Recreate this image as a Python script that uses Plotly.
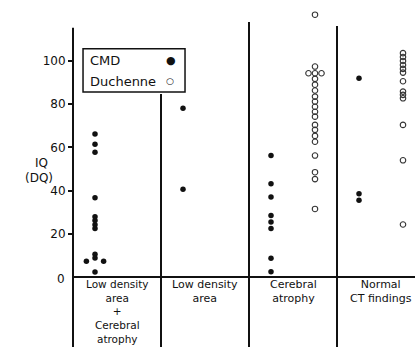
import plotly.graph_objects as go

# ---- data ----
category_lines = [
    ["Low density", "area", "+", "Cerebral", "atrophy"],
    ["Low density", "area"],
    ["Cerebral", "atrophy"],
    ["Normal", "CT findings"],
]
n_categories = len(category_lines)

# CMD (filled dots): category index, IQ value, small horizontal spread for stacked points
cmd_category = [0, 0, 0, 0, 0, 0, 0, 0, 0, 0, 0, 0, 0,
                1, 1,
                2, 2, 2, 2, 2, 2, 2, 2,
                3, 3, 3]
cmd_iq = [66.2, 61.4, 57.7, 36.7, 27.9, 26.1, 24.2, 22.4, 10.5, 8.8, 7.3, 7.3, 2.3,
          78.1, 40.6,
          56.2, 43.2, 37.0, 28.5, 25.5, 22.5, 8.7, 2.4,
          92.0, 38.5, 35.5]
cmd_spread = [0, 0, 0, 0, 0, 0, 0, 0, 0, 0, -0.098, 0.098, 0,
              0, 0,
              0, 0, 0, 0, 0, 0, 0, 0,
              0, 0, 0]

# Duchenne (open circles)
duch_category = [2] * 21 + [3] * 13
duch_iq = [121.4, 97.4, 94.3, 94.3, 94.3, 91.7, 89.0, 86.3, 83.5, 81.2, 78.8, 76.5,
           74.2, 70.4, 68.1, 65.3, 62.6, 56.2, 48.5, 45.3, 31.5,
           103.6, 101.8, 100.0, 98.1, 96.3, 94.6, 90.6, 85.8, 84.3, 82.7, 70.4, 54.0, 24.3]
duch_spread = [0, 0, -0.074, 0, 0.074] + [0] * 16 + [0] * 13

y_ticks = [20, 40, 60, 80, 100]
y_tick_labels = ["20", "40", "60", "80", "100"]
y_zero_label = "0"
y_title_lines = ["IQ", "(DQ)"]
legend_names = ["CMD", "Duchenne"]

# ---- layout constants ----
W, H = 415, 347
ML = 73
px_per_cat = 88.0
x_range = [-0.5, -0.5 + (W - ML) / px_per_cat]
y_range = [-32.4, 128.2]
FONT = "DejaVu Sans"
INK = "#111111"

cmd_offset = -0.25
duch_offset = 0.25

fig = go.Figure()

fig.add_trace(go.Scatter(
    x=[c + cmd_offset + s for c, s in zip(cmd_category, cmd_spread)],
    y=cmd_iq, mode="markers", name=legend_names[0],
    marker=dict(symbol="circle", size=5.5, color=INK, line=dict(width=0)),
    cliponaxis=False, showlegend=False,
))
fig.add_trace(go.Scatter(
    x=[c + duch_offset + s for c, s in zip(duch_category, duch_spread)],
    y=duch_iq, mode="markers", name=legend_names[1],
    marker=dict(symbol="circle-open", size=5.5, color="#333333", line=dict(width=1.1)),
    cliponaxis=False, showlegend=False,
))

shapes = []
# y axis line
shapes.append(dict(type="line", xref="paper", yref="y", x0=0, x1=0,
                   y0=y_range[0], y1=115.3, line=dict(color=INK, width=2)))
# x axis line
shapes.append(dict(type="line", xref="paper", yref="y", x0=0, x1=1,
                   y0=0, y1=0, line=dict(color=INK, width=2)))
# column dividers
divider_tops = [84.7, 118.0, 116.2]
for i, top in enumerate(divider_tops):
    shapes.append(dict(type="line", xref="x", yref="y", x0=i + 0.5, x1=i + 0.5,
                       y0=y_range[0], y1=top, line=dict(color=INK, width=2)))
# legend box
shapes.append(dict(type="rect", xref="x", yref="y", x0=-0.386, x1=0.773,
                   y0=85.6, y1=105.6, line=dict(color=INK, width=1.5),
                   fillcolor="rgba(0,0,0,0)"))

annotations = []
# category labels under the axis (one text block per column)
for i, lines in enumerate(category_lines):
    size = 10.5 if len(lines) > 3 else 11
    annotations.append(dict(x=i, y=0, xref="x", yref="y", text="<br>".join(lines),
                            showarrow=False, yanchor="top", xanchor="center",
                            yshift=0, borderpad=0, align="center",
                            font=dict(family=FONT, size=size, color=INK)))
# zero label (no tick dash in the reference)
annotations.append(dict(x=0, y=0, xref="paper", yref="y", text=y_zero_label,
                        showarrow=False, xanchor="right", yanchor="middle",
                        xshift=-6, yshift=-2,
                        font=dict(family=FONT, size=12, color=INK)))
# y title
annotations.append(dict(x=0, y=52.8, xref="paper", yref="y", text=y_title_lines[0],
                        showarrow=False, xanchor="center", yanchor="middle", xshift=-32,
                        font=dict(family=FONT, size=12, color=INK)))
annotations.append(dict(x=0, y=45.8, xref="paper", yref="y", text=y_title_lines[1],
                        showarrow=False, xanchor="center", yanchor="middle", xshift=-34,
                        font=dict(family=FONT, size=12, color=INK)))
# legend entries
annotations.append(dict(x=-0.443, y=100.0, xref="x", yref="y", text=legend_names[0],
                        showarrow=False, xanchor="left", yanchor="middle", xshift=10,
                        font=dict(family=FONT, size=13, color=INK)))
annotations.append(dict(x=-0.443, y=90.7, xref="x", yref="y", text=legend_names[1],
                        showarrow=False, xanchor="left", yanchor="middle", xshift=10,
                        font=dict(family=FONT, size=13, color=INK)))
annotations.append(dict(x=0.61, y=100.0, xref="x", yref="y", text="●",
                        showarrow=False, xanchor="center", yanchor="middle",
                        font=dict(family=FONT, size=11, color=INK)))
annotations.append(dict(x=0.60, y=90.7, xref="x", yref="y", text="○",
                        showarrow=False, xanchor="center", yanchor="middle",
                        font=dict(family=FONT, size=9, color=INK)))

fig.update_layout(
    width=W, height=H,
    margin=dict(l=ML, r=0, t=0, b=0),
    paper_bgcolor="white", plot_bgcolor="white",
    xaxis=dict(range=x_range, visible=False, fixedrange=True),
    yaxis=dict(range=y_range, tickvals=y_ticks, ticktext=y_tick_labels,
               ticks="outside", ticklen=4, tickwidth=1.5, tickcolor=INK,
               showgrid=False, zeroline=False, showline=False,
               tickfont=dict(family=FONT, size=12, color=INK), fixedrange=True),
    shapes=shapes, annotations=annotations,
    showlegend=False,
)

fig.write_html("out.html", include_plotlyjs=True, full_html=True,
               config={"displayModeBar": False},
               post_script="document.body.style.margin='0px';document.body.style.padding='0px';")
